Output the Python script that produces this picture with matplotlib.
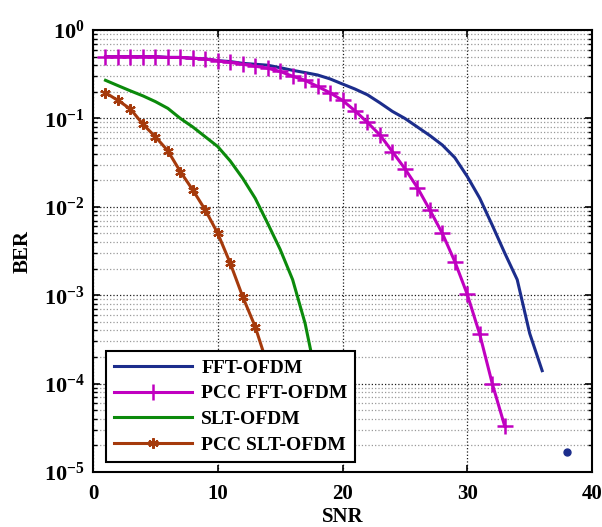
"""BER vs SNR para FFT-OFDM, SLT-OFDM y sus versiones con PCC."""

import matplotlib
matplotlib.use("Agg")
import matplotlib.pyplot as plt
from matplotlib.ticker import LogLocator, NullLocator

# DATOS

snr_fft = list(range(1, 37))
ber_fft = [0.50, 0.50, 0.50, 0.50, 0.50, 0.49, 0.49, 0.48, 0.47, 0.45,
           0.44, 0.42, 0.41, 0.40, 0.375, 0.35, 0.33, 0.31, 0.28, 0.245,
           0.215, 0.185, 0.15, 0.12, 0.10, 0.08, 0.064, 0.05, 0.036, 0.022,
           0.0125, 0.0062, 0.003, 0.0015, 3.7e-4, 1.4e-4]

snr_pcc_fft = list(range(1, 34))
ber_pcc_fft = [0.50, 0.50, 0.50, 0.50, 0.50, 0.49, 0.49, 0.48, 0.47, 0.45,
               0.43, 0.41, 0.39, 0.37, 0.34, 0.30, 0.27, 0.23, 0.195, 0.16,
               0.122, 0.09, 0.065, 0.042, 0.027, 0.0165, 0.0092, 0.005, 0.0024, 0.00102,
               3.6e-4, 1.0e-4, 3.3e-5]

snr_slt = list(range(1, 20))
ber_slt = [0.27, 0.235, 0.205, 0.18, 0.155, 0.13, 0.10, 0.08, 0.062, 0.048,
           0.033, 0.021, 0.0125, 0.0065, 0.0033, 0.0015, 4.8e-4, 1.0e-4, 1.5e-5]

snr_pcc_slt = list(range(1, 17))
ber_pcc_slt = [0.195, 0.16, 0.128, 0.086, 0.062, 0.043, 0.025, 0.0155, 0.0092, 0.0050,
               0.0023, 9.6e-4, 4.4e-4, 1.6e-4, 5.0e-5, 1.5e-5]

# punto suelto que aparece abajo a la derecha
snr_dot = [38]
ber_dot = [1.7e-5]

x_ticks = [0, 10, 20, 30, 40]

# ESTILO

plt.rcParams["font.family"] = ["Liberation Serif", "DejaVu Serif"]
plt.rcParams["font.weight"] = "bold"
plt.rcParams["mathtext.fontset"] = "custom"
plt.rcParams["mathtext.rm"] = "Liberation Serif:bold"
plt.rcParams["mathtext.bf"] = "Liberation Serif:bold"

COLOR_FFT = "#1c2d8c"
COLOR_PCC_FFT = "#c000c0"
COLOR_SLT = "#0b8a0b"
COLOR_PCC_SLT = "#a53a0c"

# FIGURA

fig = plt.figure(figsize=(6.02, 5.27), dpi=100)
ax = fig.add_axes([0.1545, 0.1044, 0.829, 0.8386])

ax.semilogy(snr_fft, ber_fft, color=COLOR_FFT, lw=2.2, label="FFT-OFDM")
ax.semilogy(snr_pcc_fft, ber_pcc_fft, color=COLOR_PCC_FFT, lw=2.2, marker="+",
            ms=11, mew=1.8, label="PCC FFT-OFDM")
ax.semilogy(snr_slt, ber_slt, color=COLOR_SLT, lw=2.2, label="SLT-OFDM")
ax.semilogy(snr_pcc_slt, ber_pcc_slt, color=COLOR_PCC_SLT, lw=2.2, marker=(6, 2, 0),
            ms=7.5, mew=1.6, label="PCC SLT-OFDM")
ax.semilogy(snr_dot, ber_dot, linestyle="none", marker="o", ms=5, color=COLOR_FFT)

ax.set_xlim(0, 40)
ax.set_ylim(1e-5, 1)
ax.set_xticks(x_ticks)
ax.xaxis.set_minor_locator(NullLocator())
ax.yaxis.set_major_locator(LogLocator(base=10, numticks=10))
ax.yaxis.set_minor_locator(LogLocator(base=10, subs=range(2, 10), numticks=20))

ax.grid(True, which="major", color="0.1", linestyle=":", linewidth=0.9)
ax.grid(True, which="minor", axis="y", color="0.6", linestyle=":", linewidth=0.9)

ax.tick_params(which="both", direction="in", top=True, right=True)
ax.tick_params(which="major", length=5, width=1.2)
ax.tick_params(which="minor", length=3, width=1.0)
ax.tick_params(axis="x", which="major", pad=9, labelsize=15)
ax.tick_params(axis="y", which="major", pad=6, labelsize=16)
for spine in ax.spines.values():
    spine.set_linewidth(1.5)

ax.set_xlabel("SNR", fontsize=15, fontweight="bold", labelpad=2)
ax.set_ylabel("BER", fontsize=15, fontweight="bold", labelpad=8)

leg = ax.legend(loc="lower left", bbox_to_anchor=(0.026, 0.023), borderaxespad=0,
                handlelength=4.0, handletextpad=0.5, labelspacing=0.42,
                fancybox=False, framealpha=1, edgecolor="black", borderpad=0.4,
                prop={"weight": "bold", "size": 14})
leg.get_frame().set_linewidth(1.5)

fig.savefig("out.png", dpi=100)
